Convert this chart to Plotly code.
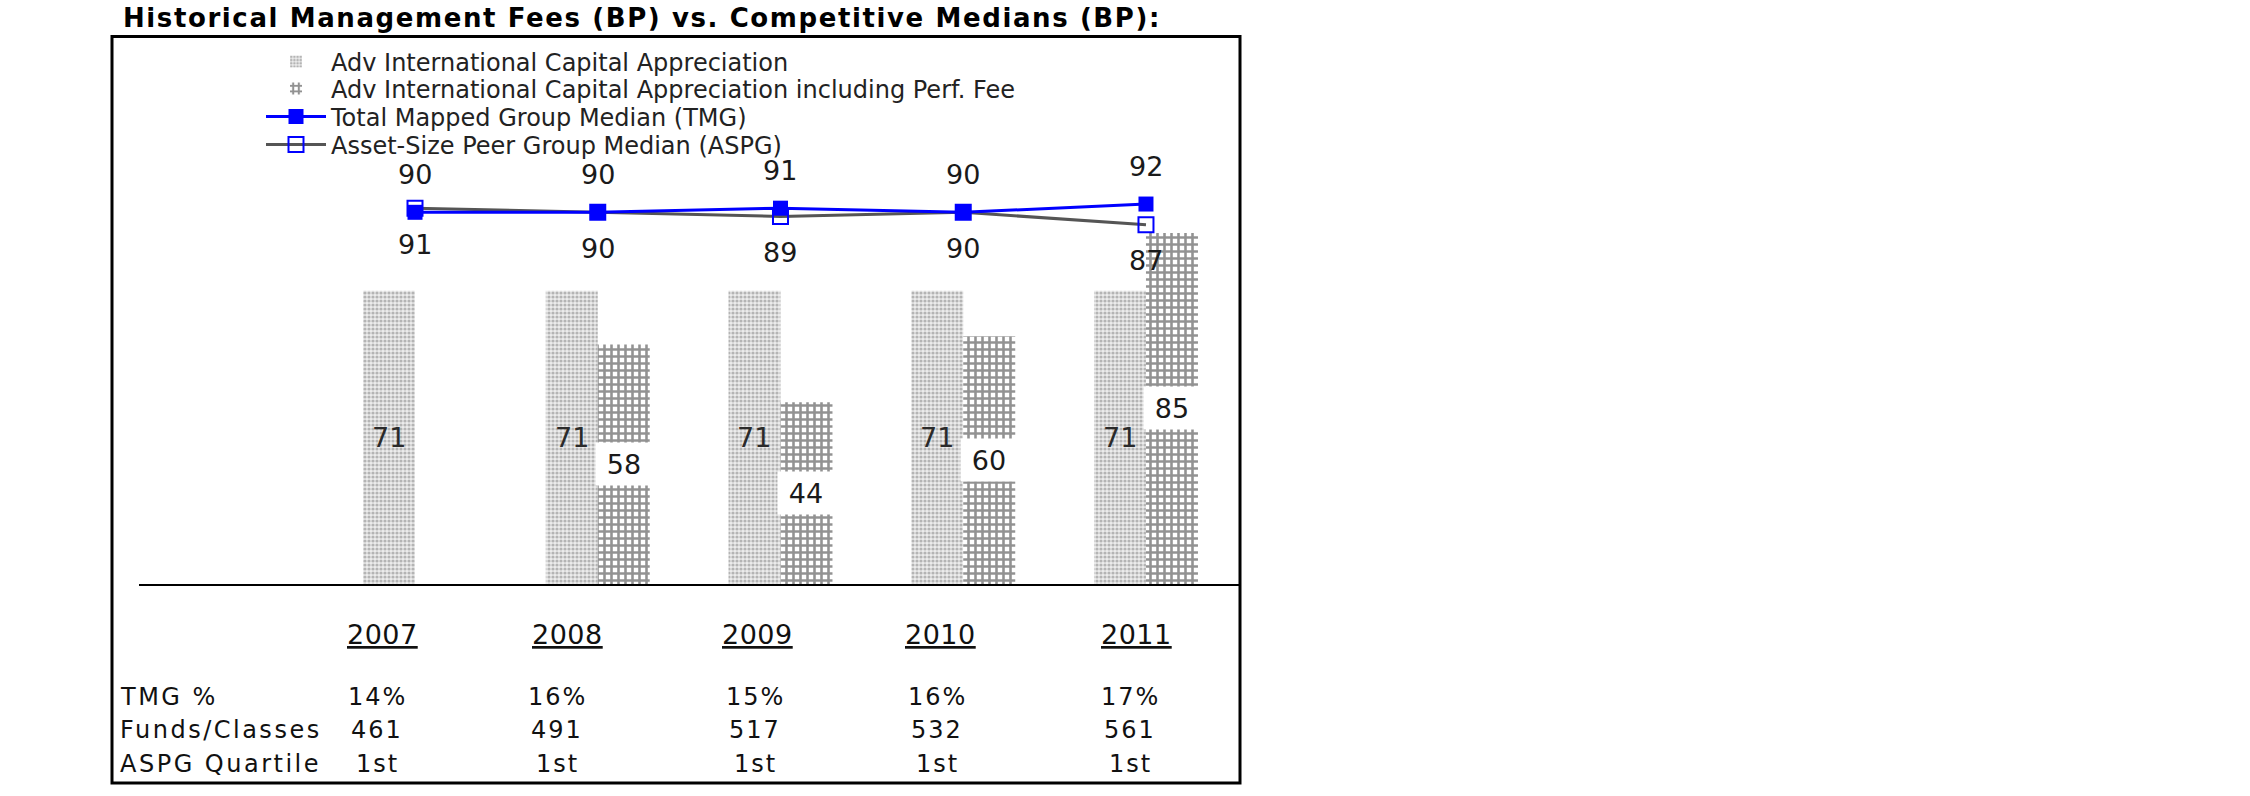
import plotly.graph_objects as go

# ---------------- data ----------------
years = ["2007", "2008", "2009", "2010", "2011"]
fund_fee = [71, 71, 71, 71, 71]
fund_fee_perf = [None, 58, 44, 60, 85]
tmg_median = [90, 90, 91, 90, 92]
aspg_median = [91, 90, 89, 90, 87]
tmg_pct = ["14%", "16%", "15%", "16%", "17%"]
funds_classes = ["461", "491", "517", "532", "561"]
aspg_quartile = ["1st", "1st", "1st", "1st", "1st"]
row_labels = ["TMG %", "Funds/Classes", "ASPG Quartile"]

title_text = "Historical Management Fees (BP) vs. Competitive Medians (BP):"
name_fund = "Adv International Capital Appreciation"
name_fund_perf = "Adv International Capital Appreciation including Perf. Fee"
name_tmg = "Total Mapped Group Median (TMG)"
name_aspg = "Asset-Size Peer Group Median (ASPG)"

# ---------------- layout geometry (page pixels) ----------------
W, H = 2250, 796
L, R, T, B = 139, 1239, 171, 584
FONT = "DejaVu Sans"


def px_x(p):
    return (p - L) / (R - L)


def px_y(p):
    return (B - p) / (B - T)


def ls(text, sp):
    return "<span style='letter-spacing:%spx'>%s</span>" % (sp, text)


fig = go.Figure()

fig.add_trace(go.Bar(
    x=years, y=fund_fee, name=name_fund, legend="legend",
    marker=dict(color="#ececec", line=dict(width=0),
                pattern=dict(shape=".", fgcolor="#7c7c7c", bgcolor="#ececec",
                             size=4, solidity=0.5)),
    hoverinfo="skip",
))
fig.add_trace(go.Bar(
    x=years, y=fund_fee_perf, name=name_fund_perf, legend="legend2",
    marker=dict(color="white", line=dict(width=0),
                pattern=dict(shape="+", fgcolor="#262626", bgcolor="white",
                             size=7, solidity=0.6)),
    hoverinfo="skip",
))
fig.add_trace(go.Scatter(
    x=years, y=aspg_median, name=name_aspg, legend="legend4",
    mode="lines+markers",
    line=dict(color="#555555", width=3),
    marker=dict(symbol="square-open", size=15, color="#0000ff",
                line=dict(width=2, color="#0000ff")),
    hoverinfo="skip",
))
fig.add_trace(go.Scatter(
    x=years, y=tmg_median, name=name_tmg, legend="legend3",
    mode="lines+markers",
    line=dict(color="#0000ff", width=3),
    marker=dict(symbol="square", size=15, color="#0000ff"),
    hoverinfo="skip",
))

annotations = []

# title
annotations.append(dict(
    xref="paper", yref="paper", x=px_x(121), y=px_y(18),
    xanchor="left", yanchor="middle", showarrow=False,
    text="<b>" + ls(title_text, 1.6) + "</b>",
    font=dict(family=FONT, size=26, color="black"),
))

# line labels
for i, v in enumerate(tmg_median):
    annotations.append(dict(
        x=i, y=v, xref="x", yref="y", yshift=38, showarrow=False,
        text=str(v), font=dict(family=FONT, size=27, color="#1a1a1a"),
        xanchor="center", yanchor="middle",
    ))
for i, v in enumerate(aspg_median):
    annotations.append(dict(
        x=i, y=v, xref="x", yref="y", yshift=-36, showarrow=False,
        text=str(v), font=dict(family=FONT, size=27, color="#1a1a1a"),
        xanchor="center", yanchor="middle",
    ))

# bar labels
for i, v in enumerate(fund_fee):
    annotations.append(dict(
        x=i, y=v / 2, xref="x", yref="y", xshift=-26, showarrow=False,
        text=str(v), font=dict(family=FONT, size=27, color="#2a2a2a"),
        xanchor="center", yanchor="middle",
    ))
for i, v in enumerate(fund_fee_perf):
    if v is None:
        continue
    annotations.append(dict(
        x=i, y=v / 2, xref="x", yref="y", xshift=26, showarrow=False,
        text=str(v), font=dict(family=FONT, size=27, color="#1a1a1a"),
        xanchor="center", yanchor="middle",
        bgcolor="white", width=54, height=40,
    ))

# table below the chart
year_cols = [382, 567, 757, 940, 1136]
val_cols = [377, 557, 755, 937, 1130]
row_y = [697, 730, 764]

for cx, yr in zip(year_cols, years):
    annotations.append(dict(
        xref="paper", yref="paper", x=px_x(cx), y=px_y(634),
        xanchor="center", yanchor="middle", showarrow=False,
        text="<span style='letter-spacing:0.5px;text-decoration:underline'>%s</span>" % yr,
        font=dict(family=FONT, size=27, color="#111111"),
    ))

for ry, lab in zip(row_y, row_labels):
    annotations.append(dict(
        xref="paper", yref="paper", x=px_x(118), y=px_y(ry),
        xanchor="left", yanchor="middle", showarrow=False,
        text=ls(lab, 2.5), font=dict(family=FONT, size=24, color="#111111"),
    ))

for ry, row in zip(row_y, [tmg_pct, funds_classes, aspg_quartile]):
    for cx, val in zip(val_cols, row):
        annotations.append(dict(
            xref="paper", yref="paper", x=px_x(cx), y=px_y(ry),
            xanchor="center", yanchor="middle", showarrow=False,
            text=ls(val, 2.0), font=dict(family=FONT, size=24, color="#111111"),
        ))

shapes = [dict(
    type="rect", xref="paper", yref="paper",
    x0=px_x(112), x1=px_x(1240), y0=px_y(783), y1=px_y(36.5),
    line=dict(color="black", width=3), fillcolor="rgba(0,0,0,0)", layer="above",
)]

legend_rows = [62, 89, 117, 145]


def leg(row_y):
    return dict(
        x=px_x(261), y=px_y(row_y), xanchor="left", yanchor="middle",
        orientation="v", bgcolor="rgba(0,0,0,0)", borderwidth=0,
        font=dict(family=FONT, size=24, color="#222222"),
        itemwidth=60, tracegroupgap=0,
    )


fig.update_layout(
    width=W, height=H,
    margin=dict(l=L, r=W - R, t=T, b=H - B, pad=0),
    paper_bgcolor="white", plot_bgcolor="white",
    barmode="group", bargap=0.431, bargroupgap=0,
    font=dict(family=FONT, size=22, color="#222222"),
    showlegend=True,
    legend=leg(legend_rows[0]),
    legend2=leg(legend_rows[1]),
    legend3=leg(legend_rows[2]),
    legend4=leg(legend_rows[3]),
    xaxis=dict(
        type="category", range=[-1.5103, 4.509],
        showticklabels=False, ticks="", showgrid=False, zeroline=False,
        showline=True, linecolor="black", linewidth=2, fixedrange=True,
    ),
    yaxis=dict(range=[0, 100], visible=False, fixedrange=True),
    annotations=annotations,
    shapes=shapes,
)

# remove the default page margin so the figure sits at the top-left corner
fig.write_html(
    "out.html",
    config={"displayModeBar": False},
    post_script="document.body.style.margin='0';document.body.style.overflow='hidden';",
)
